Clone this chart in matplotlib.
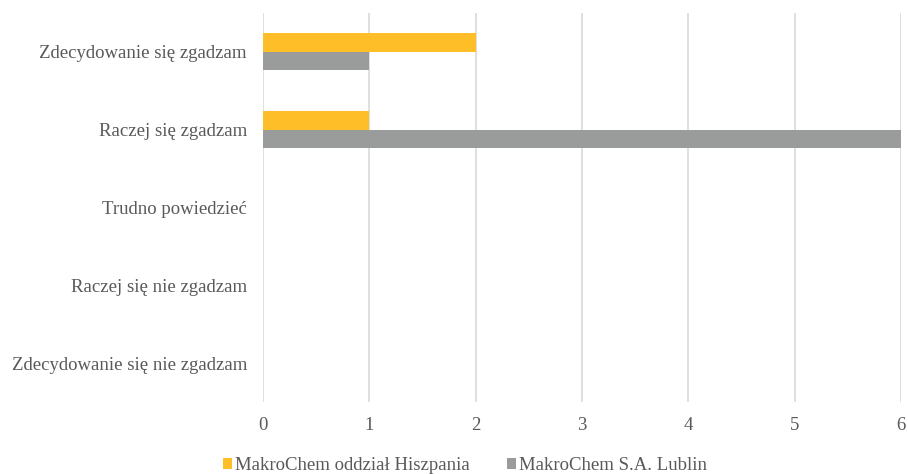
import matplotlib
matplotlib.use("Agg")
import matplotlib.pyplot as plt
import numpy as np

categories = [
    "Zdecydowanie się zgadzam",
    "Raczej się zgadzam",
    "Trudno powiedzieć",
    "Raczej się nie zgadzam",
    "Zdecydowanie się nie zgadzam",
]
series_names = ["MakroChem oddział Hiszpania", "MakroChem S.A. Lublin"]
hiszpania = [2, 1, 0, 0, 0]
lublin = [1, 6, 0, 0, 0]
x_ticks = [0, 1, 2, 3, 4, 5, 6]

colors = ["#FDBE27", "#9A9C9C"]
text_color = "#595959"

plt.rcParams["font.family"] = ["Liberation Serif", "DejaVu Serif"]

fig = plt.figure(figsize=(9.08, 4.74), dpi=100)
ax = fig.add_axes([0.2896, 0.1519, 0.7027, 0.8207])

n = len(categories)
pos = np.arange(n)
h = 0.238
ax.barh(pos - h / 2, hiszpania, height=h, color=colors[0], label=series_names[0], zorder=3)
ax.barh(pos + h / 2, lublin, height=h, color=colors[1], label=series_names[1], zorder=3)

ax.set_ylim(n - 0.5, -0.5)
ax.set_xlim(0, 6)
ax.set_xticks(x_ticks)
ax.set_xticklabels([str(t) for t in x_ticks])
ax.set_yticks(pos)
ax.set_yticklabels(categories)

ax.xaxis.grid(True, color="#D9D9D9", linewidth=1.2, zorder=0)
ax.set_axisbelow(True)
for s in ax.spines.values():
    s.set_visible(False)
ax.tick_params(axis="both", length=0, labelsize=13.5, colors=text_color)
ax.tick_params(axis="y", pad=11.5)
ax.tick_params(axis="x", pad=11)

handles, labels = ax.get_legend_handles_labels()
fig.legend(handles, labels, loc="center", bbox_to_anchor=(0.512, 0.017), ncol=2,
           frameon=False, fontsize=13.5, handlelength=0.5, handleheight=0.5,
           handletextpad=0.15, columnspacing=2.0, labelcolor=text_color)

fig.savefig("out.png", dpi=100)
